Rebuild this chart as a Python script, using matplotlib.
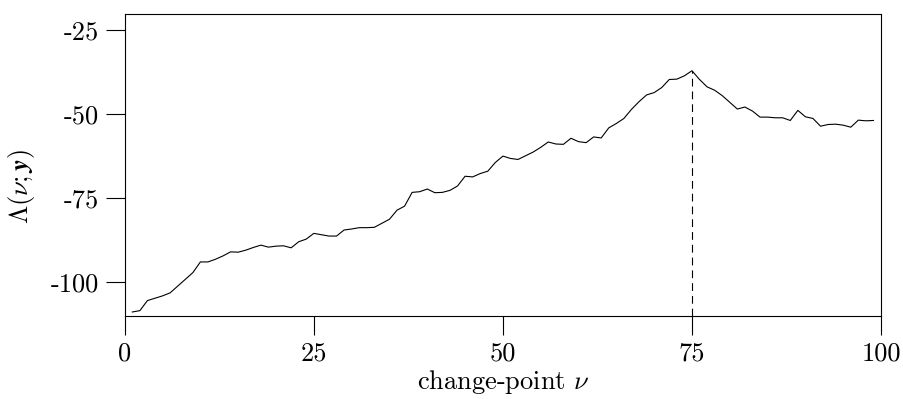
import numpy as np
import matplotlib
matplotlib.use("Agg")
import matplotlib.pyplot as plt

# change-point statistic, nu = 1..99
nu = list(range(1, 100))
lam = [
    -108.9, -108.5, -105.5, -104.8, -104.1, -103.2, -101.2, -99.2, -97.2, -94.0,
    -94.0, -93.2, -92.2, -91.0, -91.1, -90.5, -89.7, -89.0, -89.6, -89.3,
    -89.2, -89.8, -88.0, -87.2, -85.5, -85.9, -86.3, -86.3, -84.5, -84.2,
    -83.8, -83.8, -83.7, -82.5, -81.3, -78.6, -77.4, -73.3, -73.1, -72.3,
    -73.4, -73.3, -72.7, -71.4, -68.5, -68.7, -67.7, -67.0, -64.4, -62.5,
    -63.2, -63.5, -62.4, -61.3, -59.9, -58.3, -58.9, -59.0, -57.2, -58.2,
    -58.5, -56.8, -57.1, -54.1, -52.8, -51.3, -48.6, -46.3, -44.3, -43.6,
    -42.1, -39.7, -39.6, -38.6, -37.1, -39.7, -41.9, -42.9, -44.5, -46.5,
    -48.5, -47.9, -49.1, -50.9, -50.9, -51.1, -51.1, -51.9, -48.9, -50.8,
    -51.3, -53.6, -53.1, -53.0, -53.3, -53.9, -51.8, -52.0, -51.9,
]
nu_hat = 75

xticks = [0, 25, 50, 75, 100]
xtick_labels = ["0", "25", "50", "75", "100"]
yticks = [-100, -75, -50, -25]
ytick_labels = ["-100", "-75", "-50", "-25"]

plt.rcParams["font.family"] = ["cmr10", "DejaVu Serif"]
plt.rcParams["mathtext.fontset"] = "cm"
plt.rcParams["axes.unicode_minus"] = False

fig = plt.figure(figsize=(9.04, 3.99), dpi=100)
ax = fig.add_axes([0.138, 0.2088, 0.8366, 0.7562])

ax.plot(nu, lam, color="black", lw=0.8)
peak = lam[nu.index(nu_hat)]
ax.plot([nu_hat, nu_hat], [-110, peak], color="black", lw=0.8,
        linestyle=(0, (7, 4.5)))

ax.set_xlim(0, 100)
ax.set_ylim(-110, -20.2)
ax.set_xticks(xticks)
ax.set_xticklabels(xtick_labels)
ax.set_yticks(yticks)
ax.set_yticklabels(ytick_labels)
ax.tick_params(axis="both", direction="out", length=13.7, width=0.8,
               pad=5, labelsize=19, colors="black")

for s in ax.spines.values():
    s.set_linewidth(0.8)
    s.set_color("black")

ax.set_xlabel(r"change-point $\nu$", fontsize=19, labelpad=2)
ylab = ax.set_ylabel(r"$\Lambda(\nu;\boldsymbol{y})$", fontsize=19)
ylab.set_verticalalignment("center")
ax.yaxis.set_label_coords(-0.137, 0.427)

fig.savefig("out.png", dpi=100)
